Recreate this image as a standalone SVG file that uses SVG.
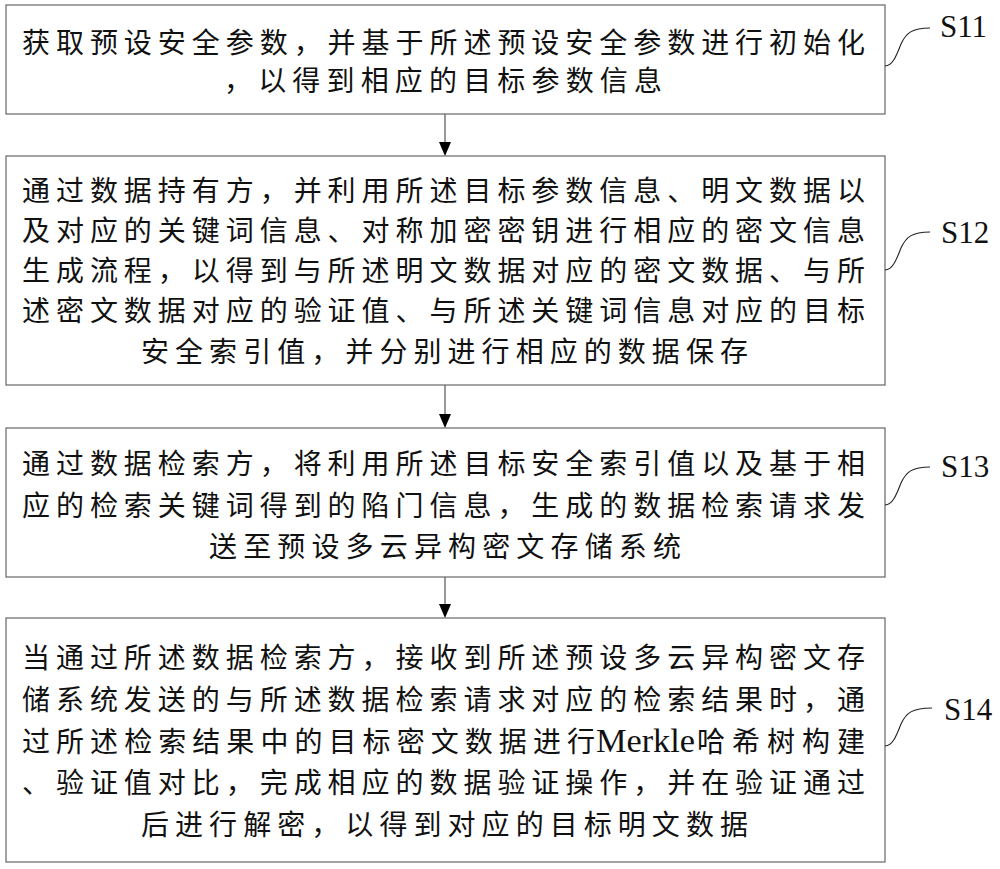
<svg xmlns="http://www.w3.org/2000/svg" width="1000" height="869" viewBox="0 0 1000 869">
<defs>
<style>
.box{fill:#fff;stroke:#666;stroke-width:1.2}
.t{font-family:"Noto Sans CJK SC","Liberation Serif",sans-serif;font-size:28px;fill:#111}
.lat{font-family:"Liberation Serif","Times New Roman",serif;font-size:33px;fill:#111}
.lbl{font-family:"Liberation Serif","Times New Roman",serif;font-size:31px;fill:#111}
.lead{fill:none;stroke:#222;stroke-width:1.1}
.conn{stroke:#444;stroke-width:1.1;fill:none}
.head{fill:#000}
</style>
</defs>
<rect width="1000" height="869" fill="#fff"/>
<g id="connectors">
<line class="conn" x1="445" y1="114" x2="445" y2="143"/>
<path class="head" d="M439,142 L451,142 L445,156 Z"/>
<line class="conn" x1="445" y1="385" x2="445" y2="415"/>
<path class="head" d="M439,414 L451,414 L445,428 Z"/>
<line class="conn" x1="445" y1="577" x2="445" y2="605"/>
<path class="head" d="M439,604 L451,604 L445,618 Z"/>
</g>
<g id="S11">
<rect class="box" x="6" y="5" width="879" height="109"/>
<text class="t" x="22" y="53" textLength="843" lengthAdjust="spacing">获取预设安全参数，并基于所述预设安全参数进行初始化</text>
<text class="t" x="224" y="91" textLength="438" lengthAdjust="spacing">，以得到相应的目标参数信息</text>
<path class="lead" d="M885,66 c8,0 12,-12 16,-22 c5,-11 11,-16 29,-16"/>
<text class="lbl" x="940" y="37">S11</text>
</g>
<g id="S12">
<rect class="box" x="6" y="156" width="879" height="229"/>
<text class="t" x="22" y="201" textLength="843" lengthAdjust="spacing">通过数据持有方，并利用所述目标参数信息、明文数据以</text>
<text class="t" x="22" y="241" textLength="843" lengthAdjust="spacing">及对应的关键词信息、对称加密密钥进行相应的密文信息</text>
<text class="t" x="22" y="281" textLength="843" lengthAdjust="spacing">生成流程，以得到与所述明文数据对应的密文数据、与所</text>
<text class="t" x="22" y="321" textLength="843" lengthAdjust="spacing">述密文数据对应的验证值、与所述关键词信息对应的目标</text>
<text class="t" x="141" y="362" textLength="607" lengthAdjust="spacing">安全索引值，并分别进行相应的数据保存</text>
<path class="lead" d="M885,270 c8,0 12,-12 16,-22 c5,-11 11,-16 29,-16"/>
<text class="lbl" x="941" y="243">S12</text>
</g>
<g id="S13">
<rect class="box" x="6" y="428" width="879" height="149"/>
<text class="t" x="22" y="474" textLength="843" lengthAdjust="spacing">通过数据检索方，将利用所述目标安全索引值以及基于相</text>
<text class="t" x="22" y="516" textLength="843" lengthAdjust="spacing">应的检索关键词得到的陷门信息，生成的数据检索请求发</text>
<text class="t" x="209" y="557" textLength="472" lengthAdjust="spacing">送至预设多云异构密文存储系统</text>
<path class="lead" d="M885,505 c8,0 12,-12 16,-22 c5,-11 11,-16 29,-16"/>
<text class="lbl" x="941" y="477">S13</text>
</g>
<g id="S14">
<rect class="box" x="6" y="618" width="879" height="244"/>
<text class="t" x="22" y="668" textLength="843" lengthAdjust="spacing">当通过所述数据检索方，接收到所述预设多云异构密文存</text>
<text class="t" x="22" y="710" textLength="843" lengthAdjust="spacing">储系统发送的与所述数据检索请求对应的检索结果时，通</text>
<text y="752"><tspan class="t" x="22" textLength="573" lengthAdjust="spacing">过所述检索结果中的目标密文数据进行</tspan><tspan class="lat" x="596" textLength="99" lengthAdjust="spacingAndGlyphs">Merkle</tspan><tspan class="t" x="697" textLength="168" lengthAdjust="spacing">哈希树构建</tspan></text>
<text class="t" x="22" y="793" textLength="843" lengthAdjust="spacing">、验证值对比，完成相应的数据验证操作，并在验证通过</text>
<text class="t" x="141" y="835" textLength="607" lengthAdjust="spacing">后进行解密，以得到对应的目标明文数据</text>
<path class="lead" d="M885,746 c8,0 12,-12 16,-22 c5,-11 11,-16 31,-16"/>
<text class="lbl" x="944" y="720">S14</text>
</g>
</svg>
